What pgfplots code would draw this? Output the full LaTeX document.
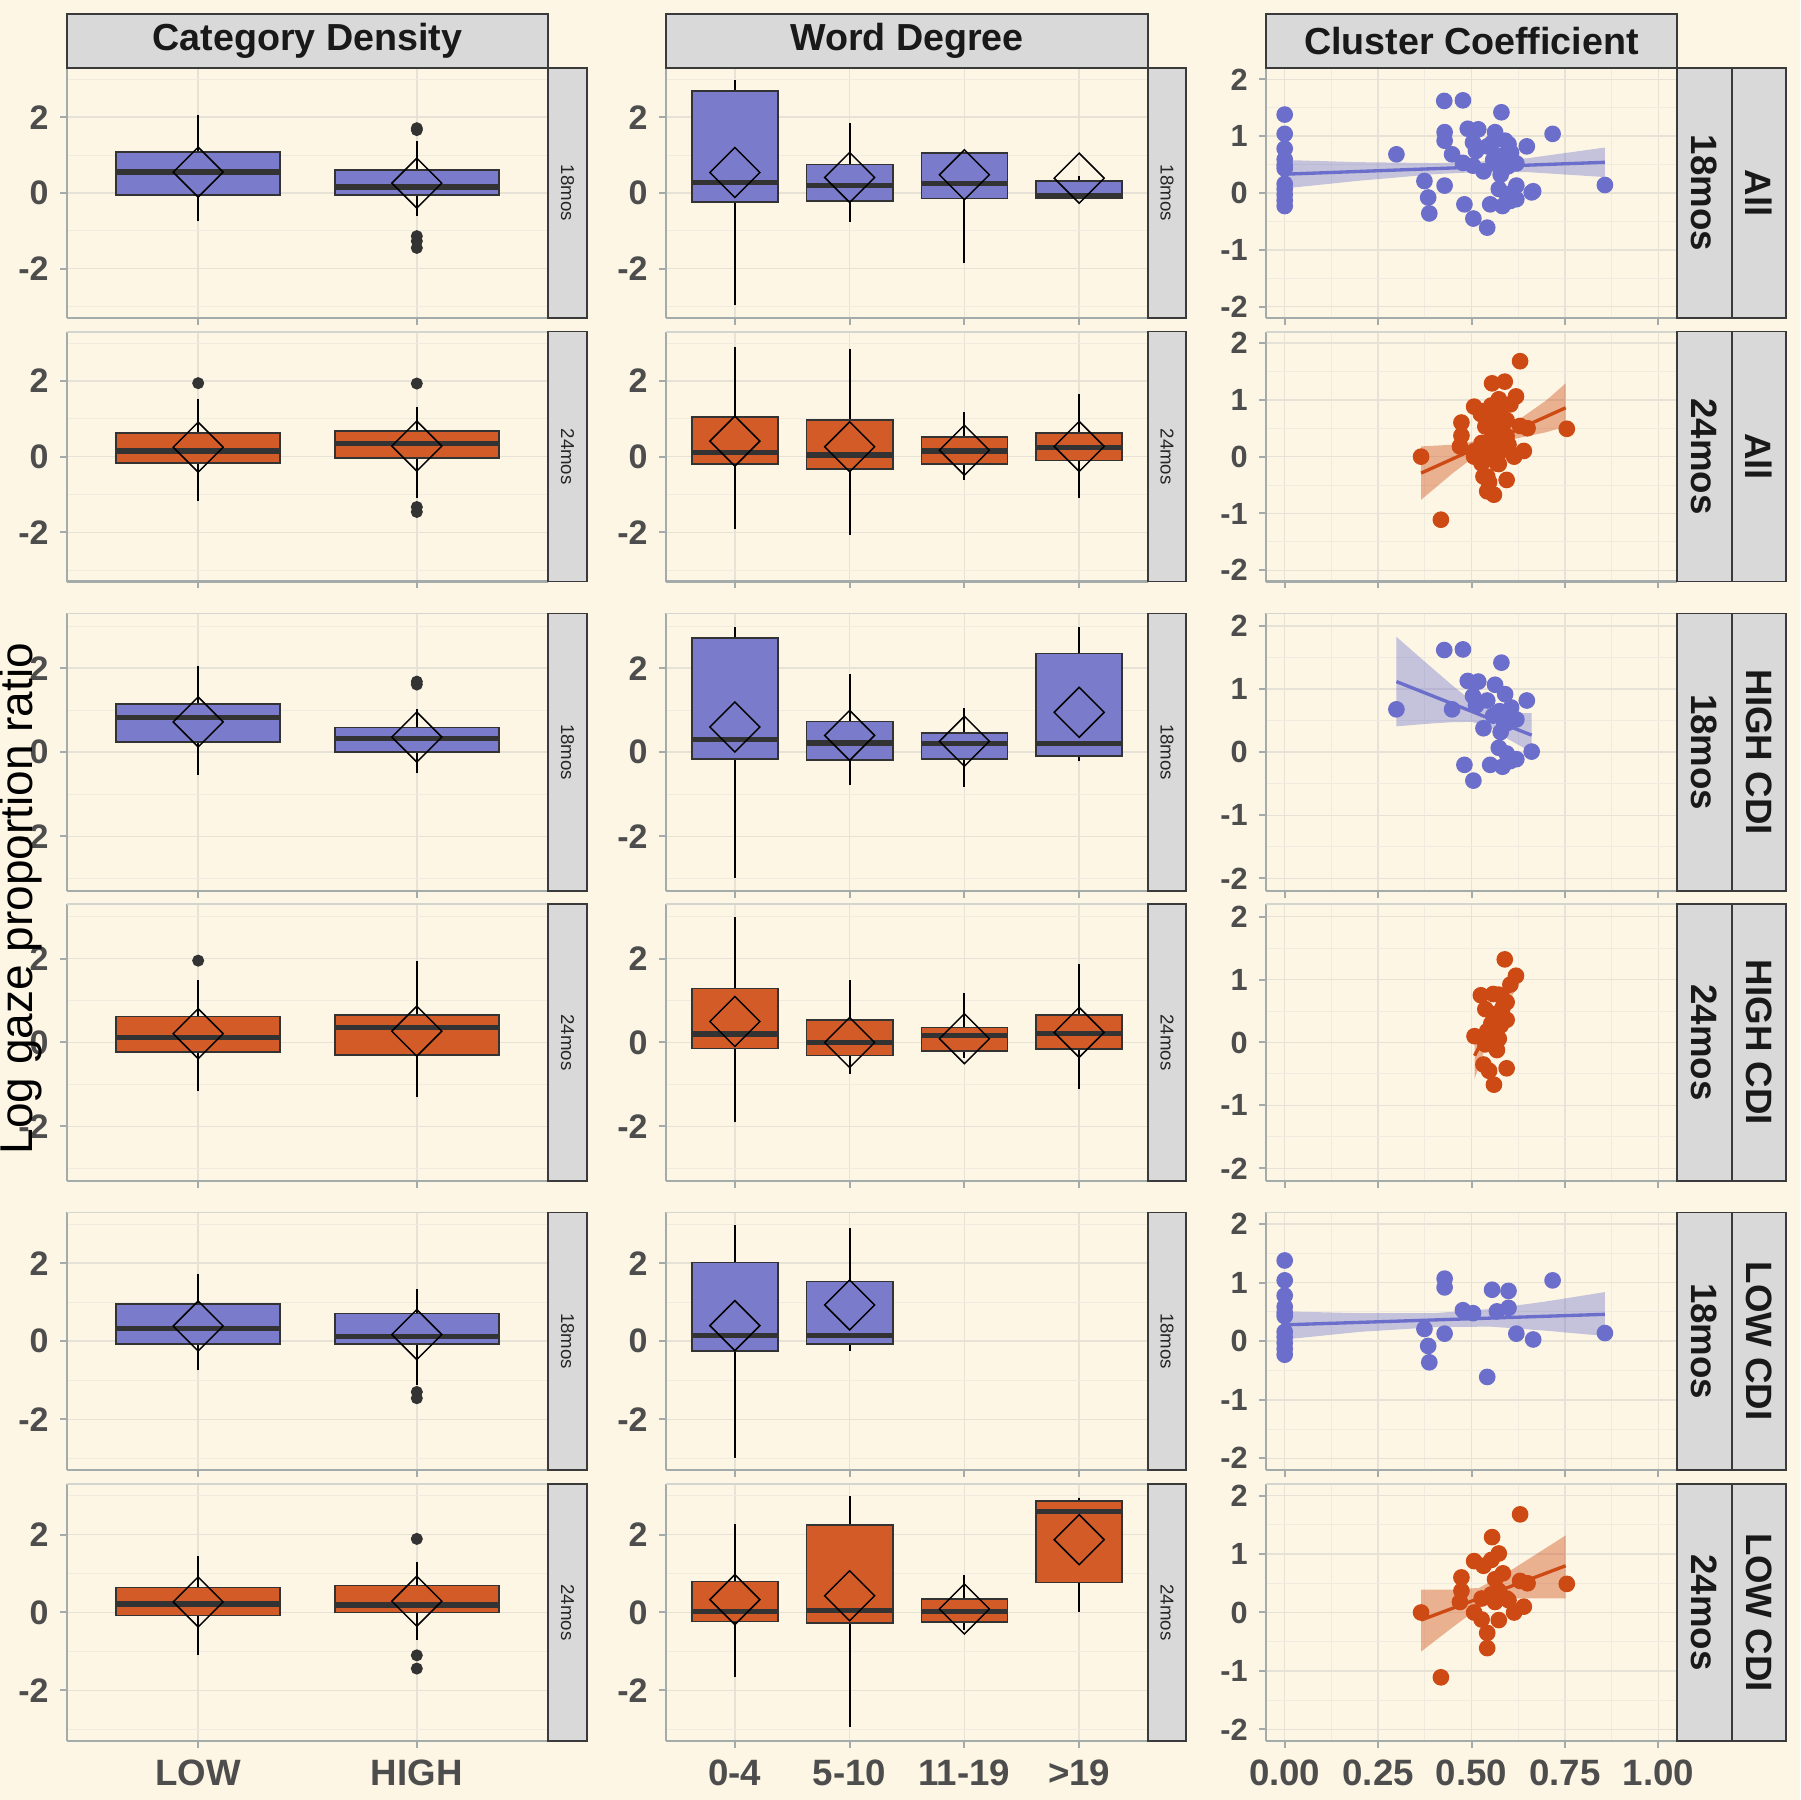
\documentclass[border=0pt]{standalone}
\usepackage{fontspec}
\setmainfont{Liberation Sans}
\usepackage{pgfplots}
\pgfplotsset{compat=1.18}
\usepgfplotslibrary{statistics}

\definecolor{bg}{HTML}{FDF6E5}
\definecolor{bblue}{HTML}{7A7BCA}
\definecolor{borange}{HTML}{D35B28}
\definecolor{pblue}{HTML}{6B6ECB}
\definecolor{porange}{HTML}{CE4A14}
\definecolor{stripgray}{HTML}{D9D9D9}
\definecolor{stripedge}{HTML}{3A3A3A}
\definecolor{axisgray}{HTML}{A3ABAB}
\definecolor{topgray}{HTML}{D3D5CF}
\definecolor{gridmaj}{HTML}{E6E2D5}
\definecolor{gridmin}{HTML}{EFEBDE}
\definecolor{tickgray}{HTML}{4D4D4D}
\definecolor{medgray}{HTML}{333333}

\pgfplotsset{
  panel/.style={
    scale only axis, anchor=south west,
    axis x line*=bottom, axis y line*=left,
    axis line style={draw=axisgray, line width=0.7pt},
    tick style={draw=axisgray, line width=0.6pt},
    tick align=outside, major tick length=2pt, minor tick length=0pt,
    grid=both,
    major grid style={draw=gridmaj, line width=0.45pt},
    minor grid style={draw=gridmin, line width=0.3pt},
    enlargelimits=false,
    xticklabel style={font=\fontsize{11}{13}\selectfont\bfseries, text=tickgray, yshift=0pt},
  },
  boxpanel/.style={panel, ymin=-3.3, ymax=3.3,
    ytick={-2,0,2}, yticklabels={-2,0,2}, minor ytick={-3,-1,1,3},
    yticklabel style={font=\fontsize{10.2}{12}\selectfont\bfseries, text=tickgray}},
  cdpanel/.style={boxpanel, width=144.3pt, xmin=0.4, xmax=2.6,
    xtick={1,2}, xticklabels={,}},
  wdpanel/.style={boxpanel, width=144.6pt, xmin=0.4, xmax=4.6,
    xtick={1,2,3,4}, xticklabels={,,,}},
  ccpanel/.style={panel, width=123.3pt, xmin=-0.05, xmax=1.05, ymin=-2.2, ymax=2.2,
    xtick={0,0.25,0.5,0.75,1}, minor xtick={0.125,0.375,0.625,0.875},
    xticklabels={,,,,},
    ytick={-2,-1,0,1,2}, yticklabels={-2,-1,0,1,2}, minor ytick={-1.5,-0.5,0.5,1.5},
    yticklabel style={font=\fontsize{9.2}{11}\selectfont\bfseries, text=tickgray}},
  outl/.style={only marks, mark=*, mark size=1.6pt, color=medgray},
  meanmk/.style={only marks, mark=square, mark size=5.3pt,
    mark options={rotate=45, draw=black, line width=0.45pt}},
  bpts/.style={only marks, mark=*, mark size=2.3pt, color=pblue},
  opts/.style={only marks, mark=*, mark size=2.3pt, color=porange},
  bband/.style={fill=pblue, fill opacity=0.38, draw=none},
  oband/.style={fill=porange, fill opacity=0.4, draw=none},
}

% box: position, lower whisker, Q1, median, Q3, upper whisker, fill
\newcommand{\bx}[7]{%
  \addplot[draw=medgray, fill=#7, line width=0.5pt,
    boxplot/draw direction=y,
    boxplot/every median/.style={draw=medgray, line width=1.6pt},
    boxplot/every whisker/.style={draw=black, line width=0.6pt},
    boxplot prepared={draw position=#1, lower whisker=#2, lower quartile=#3,
      median=#4, upper quartile=#5, upper whisker=#6,
      box extend=0.75, whisker extend=0}] coordinates {};}
\newcommand{\topline}{\draw[topgray, line width=0.6pt] (rel axis cs:0,1) -- (rel axis cs:1,1);}

% scatter data (cluster coefficient)
\newcommand{\hiA}{(0.299,0.68)(0.427,1.62)(0.477,1.63)(0.58,1.42)(0.448,0.68)(0.49,1.13)
 (0.518,1.12)(0.563,1.07)(0.504,0.89)(0.512,0.74)(0.542,0.82)(0.59,0.92)(0.648,0.82)
 (0.606,0.71)(0.575,0.65)(0.558,0.58)(0.598,0.47)(0.62,0.52)(0.532,0.38)(0.578,0.32)
 (0.588,0.44)(0.661,0.01)(0.573,0.07)(0.594,-0.02)(0.62,-0.11)(0.481,-0.2)(0.505,-0.45)
 (0.55,-0.2)(0.583,-0.23)(0.604,-0.14)}
\newcommand{\loA}{(0,1.38)(0,1.04)(0,0.78)(0,0.59)(0,0.49)(0,0.43)(0,0.16)(0,0.07)
 (0,-0.03)(0,-0.13)(0,-0.23)(0.428,1.07)(0.428,0.92)(0.428,0.13)(0.374,0.21)(0.384,-0.08)
 (0.387,-0.36)(0.477,0.53)(0.504,0.48)(0.555,0.88)(0.599,0.86)(0.568,0.51)(0.599,0.57)
 (0.62,0.13)(0.665,0.03)(0.717,1.04)(0.542,-0.61)(0.857,0.14)}
\newcommand{\hiB}{(0.589,1.32)(0.619,1.06)(0.604,0.92)(0.525,0.75)(0.558,0.77)(0.573,0.76)
 (0.537,0.53)(0.594,0.64)(0.563,0.45)(0.583,0.55)(0.594,0.36)(0.553,0.3)(0.542,0.18)
 (0.508,0.1)(0.573,0.06)(0.553,0.03)(0.568,-0.12)(0.532,-0.35)(0.547,-0.45)(0.594,-0.41)
 (0.56,-0.67)(0.537,-0.03)(0.578,0.27)}
\newcommand{\loB}{(0.365,0.0)(0.418,-1.11)(0.63,1.68)(0.555,1.29)(0.573,1.01)(0.553,0.9)
 (0.507,0.88)(0.532,0.8)(0.473,0.6)(0.473,0.37)(0.469,0.18)(0.584,0.67)(0.563,0.57)
 (0.63,0.54)(0.65,0.5)(0.755,0.49)(0.527,0.24)(0.553,0.31)(0.573,0.37)(0.594,0.24)
 (0.563,0.18)(0.507,0.0)(0.527,-0.12)(0.573,-0.13)(0.614,0.0)(0.64,0.1)(0.542,-0.35)
 (0.542,-0.61)(0.599,0.21)}

\begin{document}
\begin{tikzpicture}
\useasboundingbox (0,0) rectangle (540pt,540pt);
\fill[bg] (0,0) rectangle (540pt,540pt);

% ---------------- Category Density ----------------
\begin{axis}[cdpanel, at={(20.1pt,444.6pt)}, height=75pt]
\bx{1}{-0.75}{-0.06}{0.55}{1.09}{2.06}{bblue}
\bx{2}{-0.62}{-0.06}{0.16}{0.61}{1.36}{bblue}
\addplot[outl] coordinates {(2,1.66)(2,1.71)(2,-1.14)(2,-1.27)(2,-1.45)};
\addplot[meanmk] coordinates {(1,0.55)(2,0.26)};
\topline
\end{axis}
\begin{axis}[cdpanel, at={(20.1pt,365.5pt)}, height=75pt]
\bx{1}{-1.16}{-0.16}{0.15}{0.62}{1.51}{borange}
\bx{2}{-1.09}{-0.04}{0.35}{0.68}{1.30}{borange}
\addplot[outl] coordinates {(1,1.94)(2,1.93)(2,-1.33)(2,-1.46)};
\addplot[meanmk] coordinates {(1,0.25)(2,0.28)};
\topline
\end{axis}
\begin{axis}[cdpanel, at={(20.1pt,272.7pt)}, height=83.25pt]
\bx{1}{-0.53}{0.25}{0.83}{1.15}{2.06}{bblue}
\bx{2}{-0.50}{0.00}{0.32}{0.59}{1.02}{bblue}
\addplot[outl] coordinates {(2,1.61)(2,1.68)};
\addplot[meanmk] coordinates {(1,0.72)(2,0.36)};
\topline
\end{axis}
\begin{axis}[cdpanel, at={(20.1pt,185.7pt)}, height=83.1pt]
\bx{1}{-1.16}{-0.23}{0.12}{0.62}{1.49}{borange}
\bx{2}{-1.31}{-0.30}{0.36}{0.65}{1.95}{borange}
\addplot[outl] coordinates {(1,1.95)};
\addplot[meanmk] coordinates {(1,0.21)(2,0.27)};
\topline
\end{axis}
\begin{axis}[cdpanel, at={(20.1pt,99pt)}, height=77.25pt]
\bx{1}{-0.73}{-0.07}{0.32}{0.96}{1.73}{bblue}
\bx{2}{-1.12}{-0.07}{0.12}{0.71}{1.35}{bblue}
\addplot[outl] coordinates {(2,-1.30)(2,-1.46)};
\addplot[meanmk] coordinates {(1,0.39)(2,0.17)};
\topline
\end{axis}
\begin{axis}[cdpanel, at={(20.1pt,17.7pt)}, height=77.1pt, xticklabels={LOW,HIGH}]
\bx{1}{-1.10}{-0.08}{0.22}{0.64}{1.45}{borange}
\bx{2}{-0.71}{0.00}{0.19}{0.69}{1.30}{borange}
\addplot[outl] coordinates {(2,1.89)(2,-1.10)(2,-1.44)};
\addplot[meanmk] coordinates {(1,0.27)(2,0.29)};
\topline
\end{axis}

% ---------------- Word Degree ----------------
\begin{axis}[wdpanel, at={(199.8pt,444.6pt)}, height=75pt]
\bx{1}{-2.96}{-0.24}{0.28}{2.69}{2.98}{bblue}
\bx{2}{-0.76}{-0.21}{0.20}{0.75}{1.86}{bblue}
\bx{3}{-1.86}{-0.15}{0.25}{1.05}{1.08}{bblue}
\bx{4}{-0.13}{-0.13}{-0.06}{0.32}{0.44}{bblue}
\addplot[meanmk] coordinates {(1,0.54)(2,0.41)(3,0.48)(4,0.39)};
\topline
\end{axis}
\begin{axis}[wdpanel, at={(199.8pt,365.5pt)}, height=75pt]
\bx{1}{-1.90}{-0.20}{0.11}{1.04}{2.89}{borange}
\bx{2}{-2.06}{-0.32}{0.04}{0.96}{2.85}{borange}
\bx{3}{-0.61}{-0.20}{0.15}{0.52}{1.19}{borange}
\bx{4}{-1.10}{-0.10}{0.24}{0.62}{1.65}{borange}
\addplot[meanmk] coordinates {(1,0.41)(2,0.26)(3,0.17)(4,0.27)};
\topline
\end{axis}
\begin{axis}[wdpanel, at={(199.8pt,272.7pt)}, height=83.25pt]
\bx{1}{-2.98}{-0.16}{0.30}{2.72}{2.99}{bblue}
\bx{2}{-0.77}{-0.19}{0.22}{0.73}{1.86}{bblue}
\bx{3}{-0.82}{-0.16}{0.20}{0.46}{1.05}{bblue}
\bx{4}{-0.21}{-0.09}{0.20}{2.35}{2.97}{bblue}
\addplot[meanmk] coordinates {(1,0.60)(2,0.40)(3,0.26)(4,0.95)};
\topline
\end{axis}
\begin{axis}[wdpanel, at={(199.8pt,185.7pt)}, height=83.1pt]
\bx{1}{-1.90}{-0.14}{0.20}{1.29}{2.98}{borange}
\bx{2}{-0.74}{-0.31}{0.00}{0.54}{1.49}{borange}
\bx{3}{-0.36}{-0.20}{0.16}{0.36}{1.19}{borange}
\bx{4}{-1.10}{-0.16}{0.21}{0.65}{1.86}{borange}
\addplot[meanmk] coordinates {(1,0.50)(2,0.00)(3,0.09)(4,0.24)};
\topline
\end{axis}
\begin{axis}[wdpanel, at={(199.8pt,99pt)}, height=77.25pt]
\bx{1}{-2.98}{-0.25}{0.14}{2.02}{2.98}{bblue}
\bx{2}{-0.26}{-0.07}{0.15}{1.53}{2.90}{bblue}
\addplot[meanmk] coordinates {(1,0.40)(2,0.93)};
\topline
\end{axis}
\begin{axis}[wdpanel, at={(199.8pt,17.7pt)}, height=77.1pt,
  xticklabels={0-4,5-10,11-19,>19}]
\bx{1}{-1.66}{-0.23}{0.02}{0.80}{2.28}{borange}
\bx{2}{-2.94}{-0.27}{0.05}{2.25}{2.98}{borange}
\bx{3}{-0.45}{-0.25}{0.02}{0.34}{0.96}{borange}
\bx{4}{0.00}{0.77}{2.59}{2.87}{2.95}{borange}
\addplot[meanmk] coordinates {(1,0.33)(2,0.43)(3,0.09)(4,1.87)};
\topline
\end{axis}

% ---------------- Cluster Coefficient ----------------
\begin{axis}[ccpanel, at={(379.8pt,444.6pt)}, height=75pt]
\addplot[bpts] coordinates {\hiA\loA};
\addplot[bband] coordinates {(0,0.58)(0.2,0.542)(0.4,0.526)(0.5,0.5425)(0.65,0.611)(0.857,0.80)
  (0.857,0.28)(0.65,0.367)(0.5,0.3625)(0.4,0.33)(0.2,0.216)(0,0.08)} -- cycle;
\addplot[pblue, line width=1pt] coordinates {(0,0.33)(0.857,0.54)};
\topline
\end{axis}
\begin{axis}[ccpanel, at={(379.8pt,365.5pt)}, height=75pt]
\addplot[opts] coordinates {\hiB\loB};
\addplot[oband] coordinates {(0.365,0.18)(0.45,0.21)(0.5,0.26)(0.56,0.39)(0.62,0.62)(0.7,0.99)(0.752,1.29)
  (0.752,0.53)(0.7,0.43)(0.62,0.32)(0.56,0.19)(0.5,-0.04)(0.45,-0.29)(0.365,-0.76)} -- cycle;
\addplot[porange, line width=1pt] coordinates {(0.365,-0.29)(0.752,0.86)};
\topline
\end{axis}
\begin{axis}[ccpanel, at={(379.8pt,272.7pt)}, height=83.25pt]
\addplot[bpts] coordinates {\hiA};
\addplot[bband] coordinates {(0.299,1.83)(0.35,1.565)(0.4,1.307)(0.45,1.053)(0.5,0.815)(0.55,0.655)(0.6,0.624)(0.661,0.62)
  (0.661,0.0)(0.6,0.202)(0.55,0.405)(0.5,0.481)(0.45,0.477)(0.4,0.459)(0.35,0.435)(0.299,0.41)} -- cycle;
\addplot[pblue, line width=1pt] coordinates {(0.299,1.12)(0.661,0.27)};
\topline
\end{axis}
\begin{axis}[ccpanel, at={(379.8pt,185.7pt)}, height=83.1pt]
\addplot[opts] coordinates {\hiB};
\addplot[oband] coordinates {(0.508,0.0)(0.53,0.25)(0.56,0.5)(0.59,0.86)(0.619,1.2)
  (0.619,0.85)(0.59,0.55)(0.56,0.25)(0.53,-0.2)(0.508,-0.58)} -- cycle;
\addplot[porange, line width=1pt] coordinates {(0.508,-0.21)(0.619,1.03)};
\topline
\end{axis}
\begin{axis}[ccpanel, at={(379.8pt,99pt)}, height=77.25pt]
\addplot[bpts] coordinates {\loA};
\addplot[bband] coordinates {(0,0.51)(0.2,0.48)(0.4,0.48)(0.55,0.55)(0.7,0.68)(0.857,0.84)
  (0.857,0.09)(0.7,0.18)(0.55,0.25)(0.4,0.24)(0.2,0.16)(0,0.03)} -- cycle;
\addplot[pblue, line width=1pt] coordinates {(0,0.28)(0.857,0.46)};
\topline
\end{axis}
\begin{axis}[ccpanel, at={(379.8pt,17.7pt)}, height=77.1pt,
  xticklabels={0.00,0.25,0.50,0.75,1.00}]
\addplot[opts] coordinates {\loB};
\addplot[oband] coordinates {(0.365,0.39)(0.45,0.39)(0.52,0.42)(0.6,0.7)(0.752,1.32)
  (0.752,0.24)(0.6,0.24)(0.52,0.08)(0.45,-0.25)(0.365,-0.67)} -- cycle;
\addplot[porange, line width=1pt] coordinates {(0.365,-0.13)(0.752,0.8)};
\topline
\end{axis}

% ---------------- strips ----------------
\tikzset{strip/.style={fill=stripgray, draw=stripedge, line width=0.5pt}}
% column titles
\foreach \xa/\xb/\t in {20.1/164.4/Category Density, 199.8/344.4/Word Degree, 379.8/503.1/Cluster Coefficient}{
  \draw[strip] (\xa pt,519.6pt) rectangle (\xb pt,535.8pt);
  \node[font=\fontsize{11.3}{13}\selectfont\bfseries, text=black!90] at ({(\xa+\xb)/2*1pt},527.7pt) {\t};
}
% row strips
\foreach \ya/\yb/\ag/\grp in {444.6/519.6/18mos/All, 365.5/440.5/24mos/All,
    272.7/355.95/18mos/HIGH CDI, 185.7/268.8/24mos/HIGH CDI,
    99/176.25/18mos/LOW CDI, 17.7/94.8/24mos/LOW CDI}{
  \draw[strip] (164.4pt,\ya pt) rectangle (176.1pt,\yb pt);
  \node[rotate=-90, font=\fontsize{5.6}{6}\selectfont, text=black!85] at (170.25pt,{(\ya+\yb)/2*1pt}) {\ag};
  \draw[strip] (344.4pt,\ya pt) rectangle (355.8pt,\yb pt);
  \node[rotate=-90, font=\fontsize{5.6}{6}\selectfont, text=black!85] at (350.1pt,{(\ya+\yb)/2*1pt}) {\ag};
  \draw[strip] (503.1pt,\ya pt) rectangle (519.6pt,\yb pt);
  \node[rotate=-90, font=\fontsize{11}{12}\selectfont\bfseries, text=black!90] at (511.35pt,{(\ya+\yb)/2*1pt}) {\ag};
  \draw[strip] (519.6pt,\ya pt) rectangle (535.8pt,\yb pt);
  \node[rotate=-90, font=\fontsize{11}{12}\selectfont\bfseries, text=black!90] at (527.7pt,{(\ya+\yb)/2*1pt}) {\grp};
}

% y axis title
\node[rotate=90, inner sep=0pt, font=\fontsize{13.8}{16}\selectfont, text=black] at (6.2pt,270.45pt) {Log gaze proportion ratio};
\end{tikzpicture}
\end{document}
